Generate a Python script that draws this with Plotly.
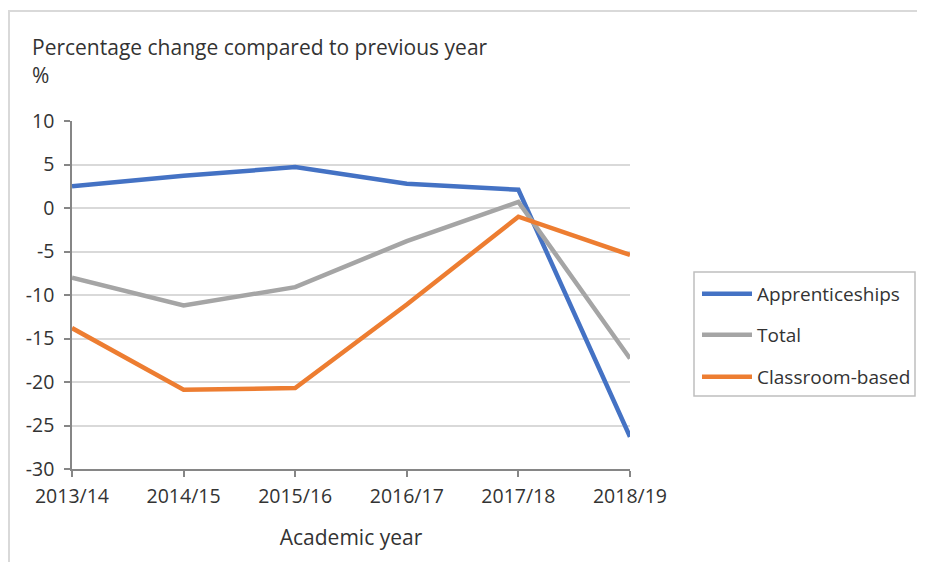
import plotly.graph_objects as go

years = ["2013/14", "2014/15", "2015/16", "2016/17", "2017/18", "2018/19"]
apprenticeships = [2.5, 3.7, 4.7, 2.8, 2.1, -26.3]
total = [-8.0, -11.2, -9.1, -3.8, 0.7, -17.3]
classroom = [-13.8, -20.9, -20.7, -11.1, -1.0, -5.4]
y_ticks = [10, 5, 0, -5, -10, -15, -20, -25, -30]

FONT = "Open Sans"
TXT = "#333333"
FS_TICK = 19.5
FS_LEG = 19
FS_TITLE = 21

# page offset from default body margin
OFF = 8
W, H = 925 - OFF, 570 - 2 * OFF
L, R, T, B = 72 - OFF, 630 - OFF, 121 - OFF, 469 - OFF
def px(x):
    return (x - OFF - L) / (R - L)
def py(y):
    return 1 - (y - OFF - T) / (B - T)
def cx(x):
    return (x - OFF) / W
def cy(y):
    return 1 - (y - OFF) / H

fig = go.Figure()
series = [("Apprenticeships", apprenticeships, "#4472C4", "legend"),
          ("Total", total, "#A5A5A5", "legend2"),
          ("Classroom-based", classroom, "#ED7D31", "legend3")]
for name, vals, col, lg in series:
    fig.add_trace(go.Scatter(x=list(range(len(years))), y=vals, name=name, mode="lines",
                             line=dict(color=col, width=4.5), legend=lg))

leg_common = dict(font=dict(family=FONT, size=FS_LEG, color=TXT), bgcolor="rgba(0,0,0,0)",
                  borderwidth=0, xanchor="left", yanchor="middle", itemwidth=50,
                  xref="container", yref="container")
fig.update_layout(
    width=W, height=H,
    margin=dict(l=L, r=W - R, t=T, b=H - B, pad=0, autoexpand=False),
    paper_bgcolor="white", plot_bgcolor="white",
    font=dict(family=FONT, size=FS_TICK, color=TXT),
    legend=dict(**leg_common, x=cx(697), y=cy(294)),
    legend2=dict(**leg_common, x=cx(697), y=cy(335)),
    legend3=dict(**leg_common, x=cx(697), y=cy(377)),
    xaxis=dict(range=[0, len(years) - 1], tickmode="array", tickvals=list(range(len(years))),
               ticktext=years, showgrid=False, zeroline=False, showline=True,
               linecolor="#868686", linewidth=1.5, ticks="outside", ticklen=6,
               tickcolor="#868686", tickwidth=1.5, ticklabelstandoff=3,
               tickfont=dict(family=FONT, size=FS_TICK, color=TXT),
               title=dict(text="Academic year", font=dict(family=FONT, size=FS_TITLE, color=TXT), standoff=22)),
    yaxis=dict(range=[-30, 10], tickmode="array", tickvals=y_ticks, ticktext=[str(v) for v in y_ticks],
               showgrid=True, gridcolor="#d9d9d9", gridwidth=1.5, zeroline=False, showline=True,
               linecolor="#868686", linewidth=1.5, ticks="outside", ticklen=6, tickcolor="#868686",
               tickwidth=1.5, ticklabelstandoff=6, tickfont=dict(family=FONT, size=FS_TICK, color=TXT)),
    showlegend=True,
)

# outer chart frame and legend box
fig.add_shape(type="rect", xref="paper", yref="paper", x0=px(9), x1=px(940), y0=py(590), y1=py(11),
              line=dict(color="#d9d9d9", width=2), layer="below")
fig.add_shape(type="rect", xref="paper", yref="paper", x0=px(694), x1=px(915), y0=py(396), y1=py(272),
              line=dict(color="#bfbfbf", width=1.5))

fig.add_annotation(text="Percentage change compared to previous year", xref="paper", yref="paper",
                   x=px(30), y=py(47), xanchor="left", yanchor="middle", showarrow=False,
                   font=dict(family=FONT, size=FS_TITLE, color=TXT))
fig.add_annotation(text="%", xref="paper", yref="paper", x=px(30), y=py(75), xanchor="left",
                   yanchor="middle", showarrow=False, font=dict(family=FONT, size=FS_TITLE, color=TXT))

fig.write_html("out.html")
